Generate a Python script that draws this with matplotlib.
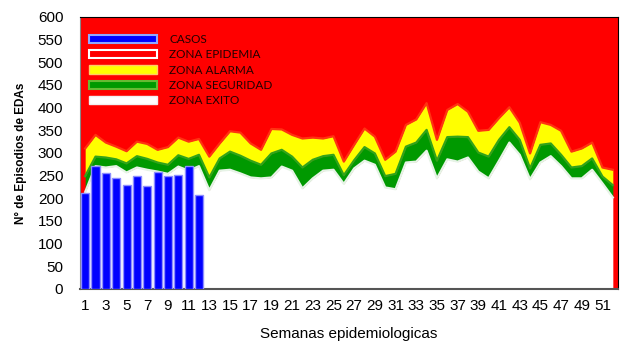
import matplotlib.pyplot as plt
from matplotlib.patches import Patch

plt.rcParams["font.family"] = ["Liberation Sans", "DejaVu Sans"]

# semanas epidemiologicas 1..52
semanas = list(range(1, 53))

# casos observados (solo semanas 1-12)
casos = [211, 272, 255, 244, 230, 249, 228, 259, 249, 251, 271, 207]

# limites superiores de cada zona (canal endemico)
exito = [214, 271, 268, 271, 257, 268, 263, 259, 254, 270, 261, 271, 218,
         261, 263, 255, 246, 244, 246, 270, 261, 222, 244, 261, 263, 232,
         266, 283, 274, 224, 220, 279, 281, 305, 244, 286, 281, 290, 259,
         244, 283, 323, 296, 242, 279, 293, 271, 244, 244, 263, 233, 202]
seguridad = [249, 292, 290, 286, 277, 293, 287, 279, 274, 295, 287, 296, 246,
             288, 303, 294, 283, 274, 299, 307, 292, 268, 285, 293, 296, 251,
             284, 313, 299, 249, 254, 314, 323, 351, 283, 335, 336, 335, 301,
             292, 329, 357, 329, 266, 318, 321, 296, 268, 271, 288, 248, 229]
alarma = [310, 340, 323, 314, 304, 325, 320, 307, 313, 334, 325, 331, 292,
          321, 348, 345, 321, 307, 353, 352, 340, 332, 334, 332, 337, 281,
          318, 354, 336, 285, 303, 362, 374, 410, 329, 395, 408, 391, 349,
          351, 377, 401, 367, 299, 368, 362, 349, 303, 310, 323, 268, 263]

etiquetas_x = [str(s) for s in semanas if s % 2 == 1]

fig = plt.figure(figsize=(6.27, 3.42), dpi=100)
ax = fig.add_axes([80 / 627, 53 / 342, 538 / 627, 272 / 342])

# zona epidemia = fondo rojo
ax.set_facecolor("#ff0000")

ax.fill_between(semanas, seguridad, alarma, color="#ffff00", lw=0, zorder=2)
ax.fill_between(semanas, exito, seguridad, color="#009900", lw=0, zorder=2)
ax.fill_between(semanas, 0, exito, color="white", lw=0, zorder=2)
ax.plot(semanas, alarma, color="#ff3311", lw=1.6, zorder=3)
ax.plot(semanas, seguridad, color="#33a31a", lw=1.6, zorder=3)
ax.plot(semanas, exito, color="#e6f3e6", lw=1.6, zorder=3)

ax.bar(semanas[:len(casos)], casos, width=0.78, color="#0000ff",
       edgecolor="#8c8cff", linewidth=1, zorder=4)

ax.set_xlim(0.5, 52.5)
ax.set_ylim(0, 600)
ax.set_yticks(range(0, 601, 50))
ax.set_xticks(semanas[::2])
ax.set_xticklabels(etiquetas_x)
ax.tick_params(length=0, labelsize=11, colors="#000000")
ax.tick_params(axis="y", pad=12)
ax.tick_params(axis="x", pad=7)
for s in ["top", "right"]:
    ax.spines[s].set_color("black")
ax.spines["left"].set_color("#888888")
ax.spines["bottom"].set_color("#555555")
ax.spines["bottom"].set_linewidth(1.5)

ax.set_xlabel("Semanas epidemiologicas", fontsize=11, labelpad=10)
ax.set_ylabel("N° de Episodios de EDAs", fontsize=8.5, fontweight="bold", labelpad=8)

handles = [
    Patch(facecolor="#0000ff", edgecolor="#8fa8ff", lw=1.5, label="CASOS"),
    Patch(facecolor="#ff0000", edgecolor="white", lw=1.5, label="ZONA EPIDEMIA"),
    Patch(facecolor="#ffff00", edgecolor="#ffcc66", lw=1.0, label="ZONA ALARMA"),
    Patch(facecolor="#009900", edgecolor="#66bb33", lw=1.5, label="ZONA SEGURIDAD"),
    Patch(facecolor="white", edgecolor="#f0f0f0", lw=1.0, label="ZONA EXITO"),
]
leg = ax.legend(handles=handles, loc="upper left", bbox_to_anchor=(0.0173, 0.938),
                frameon=False, borderaxespad=0, borderpad=0,
                handlelength=5.76, handleheight=0.68,
                labelspacing=0.37, handletextpad=1.0,
                prop={"family": "Lato", "size": 8.5})
for t in leg.get_texts():
    t.set_color("#220000")

fig.savefig("out.png", dpi=100)
